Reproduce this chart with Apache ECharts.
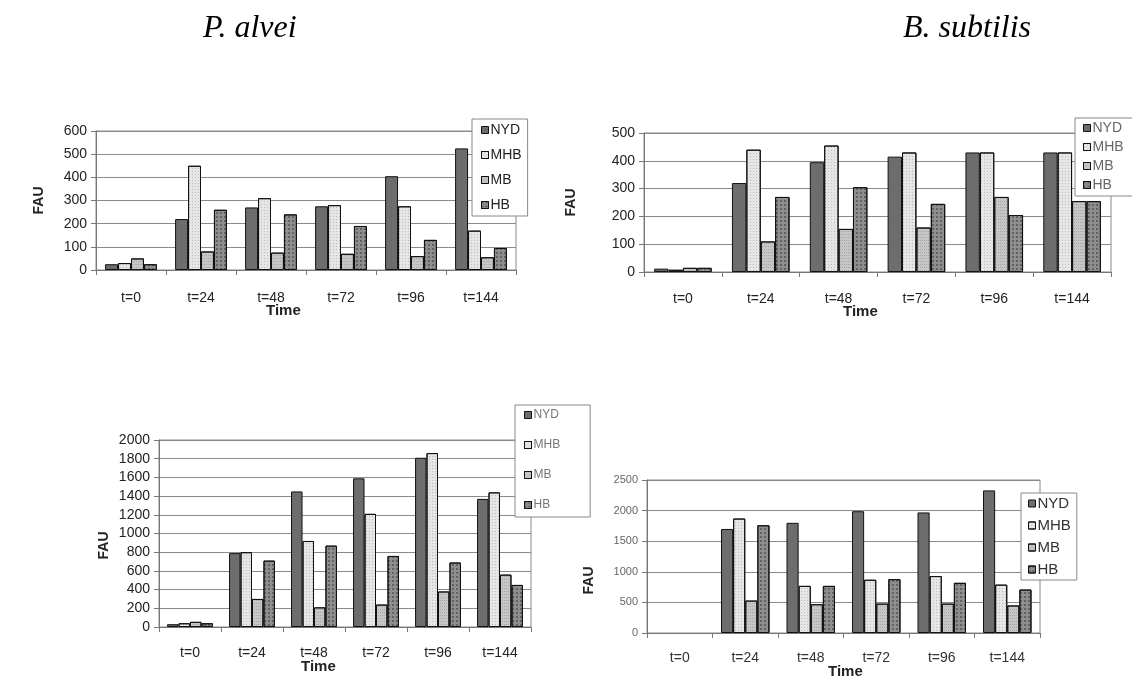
<!DOCTYPE html>
<html>
<head>
<meta charset="utf-8">
<script src="https://cdn.jsdelivr.net/npm/echarts@6/dist/echarts.min.js"></script>
<style>
html,body{margin:0;padding:0;background:#fff;}
#main{width:1132px;height:680px;}
</style>
</head>
<body>
<div id="main"></div>
<script>
// ---- Data ----
const categories = ['t=0', 't=24', 't=48', 't=72', 't=96', 't=144'];
const seriesNames = ['NYD', 'MHB', 'MB', 'HB'];

// P. alvei, top panel
const alveiTopNYD = [25, 220, 270, 275, 405, 525];
const alveiTopMHB = [30, 450, 310, 280, 275, 170];
const alveiTopMB  = [50, 80, 75, 70, 60, 55];
const alveiTopHB  = [25, 260, 240, 190, 130, 95];

// B. subtilis, top panel
const subtilisTopNYD = [12, 320, 395, 415, 430, 430];
const subtilisTopMHB = [8, 440, 455, 430, 430, 430];
const subtilisTopMB  = [15, 110, 155, 160, 270, 255];
const subtilisTopHB  = [15, 270, 305, 245, 205, 255];

// P. alvei, bottom panel
const alveiBotNYD = [30, 790, 1450, 1590, 1810, 1370];
const alveiBotMHB = [40, 800, 920, 1210, 1860, 1440];
const alveiBotMB  = [55, 300, 210, 240, 380, 560];
const alveiBotHB  = [40, 710, 870, 760, 690, 450];

// B. subtilis, bottom panel
const subtilisBotNYD = [null, 1700, 1800, 1990, 1970, 2330];
const subtilisBotMHB = [null, 1870, 770, 870, 930, 790];
const subtilisBotMB  = [null, 530, 470, 480, 480, 450];
const subtilisBotHB  = [null, 1760, 770, 880, 820, 710];

// Axis ranges / tick steps
const yMax = [600, 500, 2000, 2500];
const yStep = [100, 100, 200, 500];

const titles = ['P. alvei', 'B. subtilis'];
const xName = 'Time';
const yName = 'FAU';

// ---- Layout / style ----
const panels = [
  { grid: {left: 96, top: 131, width: 420, height: 139}, data: [alveiTopNYD, alveiTopMHB, alveiTopMB, alveiTopHB],
    yLabel: {color: '#222', size: 14}, xLabel: {color: '#222', size: 14, margin: 21},
    legend: {left: 472, top: 119, itemGap: 11, fontSize: 14, color: '#222', padding: [4, 6, 4, 9]},
    time: [283, 312], fauGap: 50, fauShift: 0 },
  { grid: {left: 644, top: 133, width: 467, height: 139}, data: [subtilisTopNYD, subtilisTopMHB, subtilisTopMB, subtilisTopHB],
    yLabel: {color: '#222', size: 14}, xLabel: {color: '#222', size: 14, margin: 20},
    legend: {left: 1075, top: 118, itemGap: 5, fontSize: 14, color: '#666', padding: [3, 30, 4, 8]},
    time: [860, 313], fauGap: 66, fauShift: 0 },
  { grid: {left: 159, top: 440, width: 372, height: 187}, data: [alveiBotNYD, alveiBotMHB, alveiBotMB, alveiBotHB],
    yLabel: {color: '#222', size: 14}, xLabel: {color: '#222', size: 14, margin: 19},
    legend: {left: 515, top: 405, itemGap: 18, fontSize: 12, color: '#777', padding: [4, 30, 6, 9]},
    time: [318, 668], fauGap: 48, fauShift: 12 },
  { grid: {left: 647, top: 480, width: 393, height: 153}, data: [subtilisBotNYD, subtilisBotMHB, subtilisBotMB, subtilisBotHB],
    yLabel: {color: '#666', size: 11}, xLabel: {color: '#333', size: 14, margin: 18},
    legend: {left: 1021, top: 493, itemGap: 7, fontSize: 15, color: '#333', padding: [3, 6, 3, 7]},
    time: [845, 673], fauGap: 51, fauShift: 24 }
];

const barStyles = [
  { color: '#6d6d6d', decal: null },
  { color: '#e6e6e6', decal: {symbol: 'rect', symbolSize: 1, dashArrayX: [1, 2], dashArrayY: [1, 2], color: 'rgba(0,0,0,0.18)'} },
  { color: '#c6c6c6', decal: {symbol: 'rect', symbolSize: 1, dashArrayX: [1, 1], dashArrayY: [1, 2], color: 'rgba(0,0,0,0.15)'} },
  { color: '#8e8e8e', decal: {symbol: 'rect', symbolSize: 1, dashArrayX: [2, 2], dashArrayY: [2, 2], color: 'rgba(0,0,0,0.3)'} }
];

const FONT = 'Liberation Sans, Arial, sans-serif';

const grid = [], xAxis = [], yAxis = [], series = [], legend = [], graphic = [];

panels.forEach((p, i) => {
  grid.push(Object.assign({show: true, borderColor: '#8a8a8a', borderWidth: 1, containLabel: false}, p.grid));
  xAxis.push({
    type: 'category', gridIndex: i, data: categories,
    axisLine: {show: true, lineStyle: {color: '#777', width: 1}},
    axisTick: {show: true, length: 5, alignWithLabel: false, lineStyle: {color: '#777'}},
    axisLabel: {color: p.xLabel.color, fontSize: p.xLabel.size, fontFamily: FONT, margin: p.xLabel.margin}
  });
  yAxis.push({
    type: 'value', gridIndex: i, min: 0, max: yMax[i], interval: yStep[i],
    name: yName, nameLocation: 'middle', nameRotate: 90, nameGap: p.fauGap,
    nameTextStyle: {fontWeight: 'bold', fontSize: 14, fontFamily: FONT, color: '#222',
                    padding: [0, p.fauShift * 2, 0, 0]},
    axisLine: {show: true, lineStyle: {color: '#777'}},
    axisTick: {show: true, length: 5, lineStyle: {color: '#777'}},
    splitLine: {show: true, lineStyle: {color: '#8a8a8a', width: 1}},
    axisLabel: {color: p.yLabel.color, fontSize: p.yLabel.size, fontFamily: FONT, margin: 9,
                formatter: v => String(v)}
  });
  seriesNames.forEach((name, k) => {
    series.push({
      type: 'bar', name: name, xAxisIndex: i, yAxisIndex: i,
      data: p.data[k], barGap: '0%', barCategoryGap: '26%',
      itemStyle: {color: barStyles[k].color, borderColor: '#111', borderWidth: 1,
                  decal: barStyles[k].decal || undefined},
      emphasis: {disabled: true}, animation: false
    });
  });
  legend.push({
    orient: 'vertical', left: p.legend.left, top: p.legend.top,
    data: seriesNames, icon: 'rect', itemWidth: 7, itemHeight: 7,
    itemGap: p.legend.itemGap, padding: p.legend.padding,
    backgroundColor: '#fff', borderColor: '#888', borderWidth: 1,
    selectedMode: false,
    textStyle: {fontSize: p.legend.fontSize, color: p.legend.color, fontFamily: FONT, padding: [0, 0, 0, -3]},
    itemStyle: {borderColor: '#111', borderWidth: 1}
  });
  graphic.push({type: 'text', left: p.time[0] - 17, top: p.time[1] - 9,
    style: {text: xName, font: 'bold 15px ' + FONT, fill: '#222'}});
});

graphic.push({type: 'text', left: 203, top: 13,
  style: {text: titles[0], font: 'italic 32px Liberation Serif, serif', fill: '#000'}});
graphic.push({type: 'text', left: 903, top: 13,
  style: {text: titles[1], font: 'italic 32px Liberation Serif, serif', fill: '#000'}});

const chart = echarts.init(document.getElementById('main'), null, {renderer: 'canvas'});
chart.setOption({
  animation: false,
  backgroundColor: '#fff',
  grid, xAxis, yAxis, series, legend, graphic
});
</script>
</body>
</html>
